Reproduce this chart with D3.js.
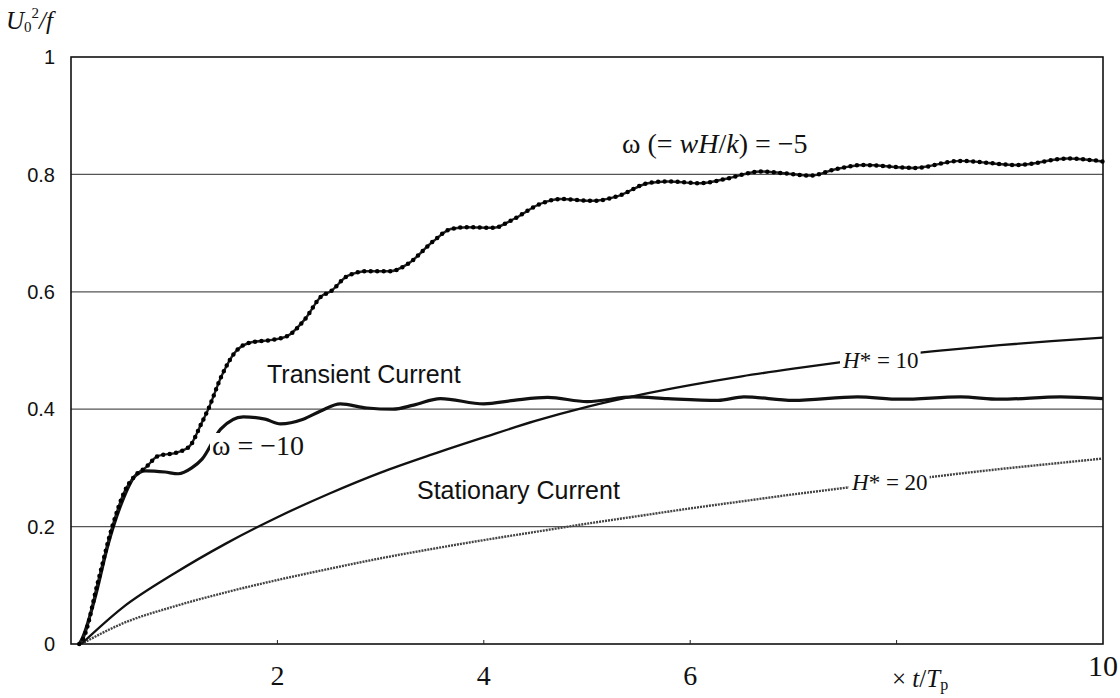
<!DOCTYPE html>
<html>
<head>
<meta charset="utf-8">
<script src="https://cdn.jsdelivr.net/npm/d3@7"></script>
<style>
  body { margin: 0; background: #fff; }
  svg { display: block; }
  .serif { font-family: "Liberation Serif", "DejaVu Serif", serif; }
  .sans { font-family: "Liberation Sans", Arial, sans-serif; }
</style>
</head>
<body>
<svg id="chart" width="1120" height="698"></svg>
<script>
// omega = -5 (transient current)
const omega5T = [0.08, 0.12, 0.26, 0.40, 0.52, 0.64, 0.72, 0.84, 1.04, 1.15, 1.27, 1.33, 1.46, 1.59, 1.75, 1.95, 2.10, 2.27, 2.43, 2.51, 2.68, 2.87, 3.09, 3.26, 3.51, 3.68, 3.84, 4.09, 4.29, 4.55, 4.74, 5.06, 5.30, 5.59, 5.78, 6.10, 6.36, 6.68, 6.91, 7.17, 7.39, 7.68, 8.17, 8.62, 9.17, 9.66, 10];
const omega5V = [0, 0.01, 0.105, 0.20, 0.26, 0.29, 0.30, 0.32, 0.327, 0.337, 0.378, 0.40, 0.457, 0.497, 0.514, 0.518, 0.525, 0.554, 0.593, 0.60, 0.627, 0.635, 0.635, 0.647, 0.686, 0.707, 0.71, 0.709, 0.724, 0.75, 0.758, 0.755, 0.763, 0.785, 0.788, 0.785, 0.793, 0.805, 0.802, 0.798, 0.808, 0.816, 0.811, 0.823, 0.816, 0.827, 0.822];

// omega = -10 (transient current)
const omega10T = [0.08, 0.11, 0.23, 0.36, 0.49, 0.62, 0.72, 0.91, 1.04, 1.17, 1.27, 1.45, 1.67, 1.88, 2.03, 2.25, 2.42, 2.61, 2.87, 3.12, 3.32, 3.58, 4.0, 4.29, 4.62, 5.0, 5.45, 5.78, 6.27, 6.52, 7.0, 7.62, 8.04, 8.62, 9.0, 9.59, 10];
const omega10V = [0, 0.01, 0.077, 0.17, 0.24, 0.286, 0.295, 0.293, 0.29, 0.30, 0.315, 0.366, 0.387, 0.383, 0.375, 0.383, 0.397, 0.409, 0.402, 0.40, 0.407, 0.418, 0.409, 0.415, 0.42, 0.413, 0.421, 0.418, 0.415, 0.421, 0.415, 0.421, 0.417, 0.421, 0.417, 0.421, 0.418];

// stationary current, H* = 10
const h10T = [0.1, 0.5, 1, 1.5, 2, 2.5, 3, 3.5, 4, 4.5, 5, 5.5, 6, 6.5, 7, 7.5, 8, 8.5, 9, 9.5, 10];
const h10V = [0, 0.062, 0.12, 0.171, 0.216, 0.256, 0.292, 0.323, 0.352, 0.38, 0.404, 0.424, 0.441, 0.456, 0.469, 0.481, 0.492, 0.501, 0.509, 0.516, 0.522];

// stationary current, H* = 20
const h20T = [0.1, 0.5, 1, 1.5, 2, 2.5, 3, 3.5, 4, 4.5, 5, 5.5, 6, 6.5, 7, 7.5, 8, 8.5, 9, 9.5, 10];
const h20V = [0, 0.035, 0.064, 0.088, 0.109, 0.128, 0.146, 0.162, 0.177, 0.191, 0.205, 0.218, 0.231, 0.243, 0.255, 0.266, 0.277, 0.288, 0.298, 0.307, 0.316];

const xTickVals = [2, 4, 6, 10];
const xMinorTicks = [2, 4, 6, 8];
const yTickVals = [0, 0.2, 0.4, 0.6, 0.8, 1];
const yTickLabels = ["0", "0.2", "0.4", "0.6", "0.8", "1"];
const gridVals = [0.2, 0.4, 0.6, 0.8];

const svg = d3.select("#chart");
const plotLeft = 71, plotRight = 1103, plotTop = 57, plotBottom = 644;

const x = d3.scaleLinear().domain([0, 10]).range([plotLeft, plotRight]);
const y = d3.scaleLinear().domain([0, 1]).range([plotBottom, plotTop]);

// grid lines
svg.append("g").selectAll("line")
  .data(gridVals)
  .enter().append("line")
  .attr("x1", plotLeft).attr("x2", plotRight)
  .attr("y1", d => y(d)).attr("y2", d => y(d))
  .attr("stroke", "#555").attr("stroke-width", 1.2);

// frame
svg.append("rect")
  .attr("x", plotLeft).attr("y", plotTop)
  .attr("width", plotRight - plotLeft).attr("height", plotBottom - plotTop)
  .attr("fill", "none").attr("stroke", "#111").attr("stroke-width", 1.6);

// small inward ticks on the bottom axis
svg.append("g").selectAll("line")
  .data(xMinorTicks)
  .enter().append("line")
  .attr("x1", d => x(d)).attr("x2", d => x(d))
  .attr("y1", plotBottom).attr("y2", plotBottom - 4)
  .attr("stroke", "#222").attr("stroke-width", 1);

// y tick labels
svg.append("g").selectAll("text")
  .data(yTickVals)
  .enter().append("text")
  .attr("class", "sans")
  .attr("x", 55)
  .attr("y", d => y(d))
  .attr("dy", "0.36em")
  .attr("text-anchor", "end")
  .attr("font-size", 20)
  .attr("fill", "#111")
  .text((d, i) => yTickLabels[i]);

// x tick labels
svg.append("g").selectAll("text")
  .data(xTickVals)
  .enter().append("text")
  .attr("class", "serif")
  .attr("x", d => x(d))
  .attr("y", d => d === 10 ? 676 : 685)
  .attr("text-anchor", "middle")
  .attr("font-size", d => d === 10 ? 30 : 28)
  .attr("fill", "#111")
  .text(d => d);

// axis titles
const xt = svg.append("text").attr("class", "serif")
  .attr("x", 892).attr("y", 687).attr("font-size", 25).attr("fill", "#111");
xt.append("tspan").text("\u00d7 ");
xt.append("tspan").attr("font-style", "italic").text("t");
xt.append("tspan").text("/");
xt.append("tspan").attr("font-style", "italic").text("T");
xt.append("tspan").attr("font-size", 16).attr("dy", 3).text("p");

const yt = svg.append("text").attr("class", "serif")
  .attr("x", 6).attr("y", 29).attr("font-size", 25).attr("fill", "#111");
yt.append("tspan").attr("font-style", "italic").text("U");
yt.append("tspan").attr("font-size", 15).attr("dy", 3).text("0");
yt.append("tspan").attr("font-size", 15).attr("dy", -14).text("2");
yt.append("tspan").attr("font-style", "italic").attr("dy", 11).text("/f");

const line = d3.line()
  .x(d => x(d[0]))
  .y(d => y(d[1]))
  .curve(d3.curveMonotoneX);

const pts = (ts, vs) => ts.map((t, i) => [t, vs[i]]);

// H* = 20 (grey, hatched)
svg.append("path")
  .datum(pts(h20T, h20V))
  .attr("d", line)
  .attr("fill", "none").attr("stroke", "#444")
  .attr("stroke-width", 2.4).attr("stroke-dasharray", "2 1");

// H* = 10
svg.append("path")
  .datum(pts(h10T, h10V))
  .attr("d", line)
  .attr("fill", "none").attr("stroke", "#111").attr("stroke-width", 2.3);

// omega = -10
svg.append("path")
  .datum(pts(omega10T, omega10V))
  .attr("d", line)
  .attr("fill", "none").attr("stroke", "#111").attr("stroke-width", 3.2);

// omega = -5: line with dots on it
const o5 = pts(omega5T, omega5V);
svg.append("path")
  .datum(o5)
  .attr("d", line)
  .attr("fill", "none").attr("stroke", "#222").attr("stroke-width", 2.4);
svg.append("path")
  .datum(o5)
  .attr("d", line)
  .attr("fill", "none").attr("stroke", "#000").attr("stroke-width", 4.5)
  .attr("stroke-linecap", "round").attr("stroke-dasharray", "0 6.5");

// labels drawn over a white patch so the curve breaks around them
function label(px, py, size, parts, cls, pad) {
  const g = svg.append("g");
  const bg = g.append("rect").attr("fill", "#fff");
  const t = g.append("text").attr("class", cls)
    .attr("x", px).attr("y", py).attr("font-size", size).attr("fill", "#111");
  parts.forEach(p => {
    const s = t.append("tspan").text(p.t);
    if (p.i) s.attr("font-style", "italic");
  });
  if (pad !== null) {
    const b = t.node().getBBox();
    bg.attr("x", b.x - pad).attr("y", b.y + 3).attr("width", b.width + 2 * pad).attr("height", b.height - 6);
  }
  return t;
}

label(843, 368, 23, [{ t: "H", i: true }, { t: "* = 10" }], "serif", 2);
label(852, 490, 23, [{ t: "H", i: true }, { t: "* = 20" }], "serif", 2);
label(212, 455, 28, [{ t: "\u03c9 = \u221210" }], "serif", 2);
label(622, 153, 28, [{ t: "\u03c9 (= " }, { t: "wH", i: true }, { t: "/" }, { t: "k", i: true }, { t: ") = \u22125" }], "serif", null);
label(267, 383, 25, [{ t: "Transient Current" }], "sans", null);
label(417, 499, 25, [{ t: "Stationary Current" }], "sans", null);
</script>
</body>
</html>
